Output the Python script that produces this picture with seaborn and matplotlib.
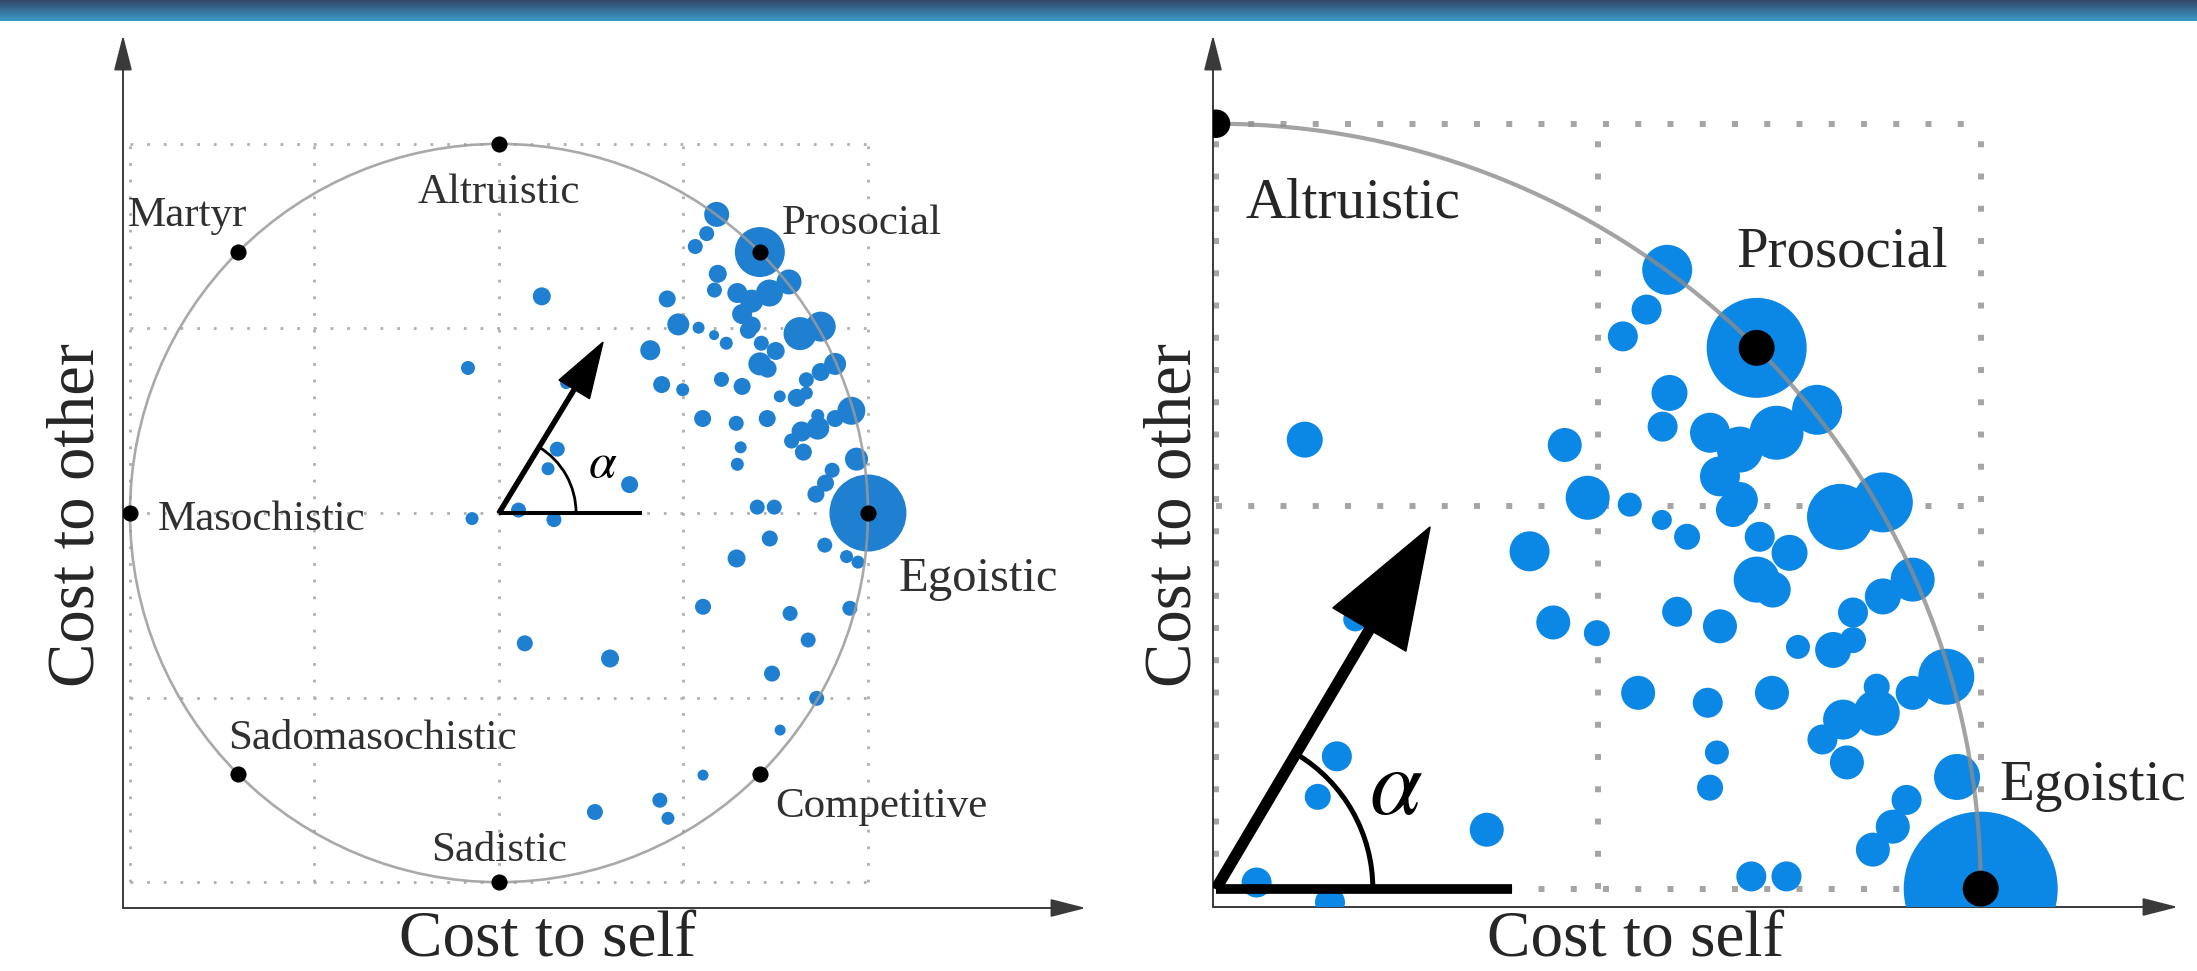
import glob
import os
import numpy as np
import pandas as pd
import matplotlib
matplotlib.use("Agg")
import matplotlib.pyplot as plt
from matplotlib import font_manager
from matplotlib.patches import Arc, Circle
from matplotlib.colors import LinearSegmentedColormap
import seaborn as sns

# Participants: cost to self (x), cost to other (y) on the unit-circle scale
cost_self = [0.116, 0.456, 0.486, 0.590, 0.707, 0.532, 0.563, 0.593, 0.584, 0.646,
             0.685, 0.733, 0.786, 0.659, 0.685, 0.816, 0.872, 0.541, 0.583, 0.616,
             0.603, 0.659, 0.552, 0.643, 0.655, 0.646, 0.727, 0.761, 0.676, 0.711,
             0.750, 0.707, 0.728, 0.911, 0.872, 0.833, 0.807, 0.833, 0.955, 0.864,
             0.911, 0.864, 0.820, 0.793, 0.825, 0.969, 0.903, 0.885, 0.859, 1.000,
             0.700, 0.746, 0.410, 0.441, 0.498, 0.182, 0.158, 0.133, 0.354, 0.053,
             0.149, -0.084, -0.073, 0.734, 0.644, 0.883, 0.942, 0.973, 0.553, 0.789,
             0.951, 0.070, 0.301, 0.838, 0.740, 0.861, 0.762, 0.553, 0.436, 0.458,
             0.260]
cost_other = [0.587, 0.580, 0.511, 0.809, 0.707, 0.722, 0.757, 0.648, 0.604, 0.596,
              0.574, 0.596, 0.626, 0.539, 0.508, 0.486, 0.505, 0.502, 0.482, 0.460,
              0.362, 0.343, 0.256, 0.243, 0.178, 0.132, 0.256, 0.316, 0.495, 0.460,
              0.439, 0.404, 0.391, 0.404, 0.382, 0.361, 0.312, 0.325, 0.277, 0.230,
              0.256, 0.264, 0.221, 0.195, 0.165, 0.146, 0.116, 0.081, 0.051, 0.000,
              0.016, 0.016, 0.441, 0.348, 0.334, 0.352, 0.173, 0.120, 0.077, 0.008,
              -0.018, 0.393, -0.015, -0.069, -0.123, -0.087, -0.118, -0.133, -0.254, -0.272,
              -0.258, -0.353, -0.394, -0.344, -0.435, -0.502, -0.588, -0.710, -0.778, -0.827,
              -0.810]
# relative blob radius (pixels in the zoomed panel)
blob_radius = [18, 17, 22, 25, 50, 15, 15, 18, 15, 20,
               23, 27, 25, 20, 18, 33, 30, 12, 10, 13,
               15, 17, 17, 15, 12, 13, 17, 12, 17, 15,
               18, 23, 18, 22, 18, 15, 18, 13, 28, 23,
               17, 13, 20, 15, 17, 23, 15, 17, 17, 77,
               15, 15, 20, 17, 13, 12, 15, 13, 17, 15,
               15, 14, 13, 16, 18, 15, 13, 13, 16, 15,
               15, 16, 18, 15, 16, 15, 11, 11, 15, 13,
               16]

# Social value orientation reference points
svo_names = ["Egoistic", "Prosocial", "Altruistic", "Martyr",
             "Masochistic", "Sadomasochistic", "Sadistic", "Competitive"]
svo_x = [1.0, 0.707, 0.0, -0.707, -1.0, -0.707, 0.0, 0.707]
svo_y = [0.0, 0.707, 1.0, 0.707, 0.0, -0.707, -1.0, -0.707]

W, H = 2197, 971
BLUE_L = "#1f7fd0"
BLUE_R = "#0b87e6"
TXT = "#262626"

# make sure a Times-like serif is registered
for pat in ["/usr/share/fonts/**/*.ttf", "/usr/local/share/fonts/**/*.ttf",
            os.path.expanduser("~/.fonts/**/*.ttf"), "/usr/share/fonts/**/*.otf"]:
    for p in glob.glob(pat, recursive=True):
        if "Serif" in p or "Times" in p or "Tinos" in p:
            try:
                font_manager.fontManager.addfont(p)
            except Exception:
                pass
have = {f.name for f in font_manager.fontManager.ttflist}
serif = [n for n in ["Liberation Serif", "Times New Roman", "Tinos", "Nimbus Roman",
                     "Noto Serif", "DejaVu Serif"] if n in have]
if not serif:
    serif = ["DejaVu Sans"]

sns.set_style("white")
plt.rcParams["font.family"] = serif + ["DejaVu Sans"]
plt.rcParams["mathtext.fontset"] = "stix"

df = pd.DataFrame({"self": cost_self, "other": cost_other, "r": blob_radius})
df["area_r"] = (1.44 * df["r"]) ** 2
df["area_l"] = df["area_r"] * 0.25

fig = plt.figure(figsize=(W / 100, H / 100), dpi=100)


def px_rect(x0, y0, x1, y1):
    return [x0 / W, 1 - y1 / H, (x1 - x0) / W, (y1 - y0) / H]


# banner
bax = fig.add_axes([0, 1 - 21 / H, 1, 21 / H])
cmap = LinearSegmentedColormap.from_list("band", ["#33466a", "#3c9ac6"])
bax.imshow(np.linspace(0, 1, 40)[:, None], cmap=cmap, aspect="auto")
bax.axis("off")


def axis_arrows(ax):
    for s in ax.spines.values():
        s.set_visible(False)
    ax.set_xticks([])
    ax.set_yticks([])
    kw = dict(xycoords="axes fraction", textcoords="axes fraction",
              arrowprops=dict(arrowstyle="-|>,head_length=0.55,head_width=0.14",
                              color="#3a3a3a", lw=1.4, mutation_scale=40,
                              shrinkA=0, shrinkB=0))
    ax.annotate("", xy=(0, 1), xytext=(0, 0), **kw)
    ax.annotate("", xy=(1, 0), xytext=(0, 0), **kw)


# ---------------- left panel: full circle ----------------
ax1 = fig.add_axes(px_rect(123, 35, 1086, 908))
ax1.set_xlim(-1.019, 1.591)
ax1.set_ylim(-1.070, 1.295)
axis_arrows(ax1)

grid_kw = dict(color="#b0b0b0", lw=2.0, linestyle=(0, (1, 5)), zorder=1)
for g in [-1, -0.5, 0, 0.5, 1]:
    ax1.hlines(g, -1, 1, **grid_kw)
    ax1.vlines(g, -1, 1, **grid_kw)

sns.scatterplot(data=df, x="self", y="other", size="area_l",
                sizes=(df["area_l"].min(), df["area_l"].max()),
                color=BLUE_L, linewidth=0, legend=False, ax=ax1, zorder=3)
ax1.add_patch(Circle((0, 0), 1, fill=False, ec="#9a9a9a", lw=1.9, alpha=0.85, zorder=4))
ax1.scatter(svo_x, svo_y, s=135, color="black", zorder=5, linewidths=0)

left_pos = {"Egoistic": (1.084, -0.211, "left", 35),
            "Prosocial": (0.767, 0.756, "left", 31),
            "Altruistic": (0.0, 0.840, "center", 31),
            "Martyr": (-1.005, 0.778, "left", 31),
            "Masochistic": (-0.924, -0.046, "left", 31),
            "Sadomasochistic": (-0.734, -0.640, "left", 31),
            "Sadistic": (0.0, -0.943, "center", 31),
            "Competitive": (0.748, -0.824, "left", 31)}
for name in svo_names:
    x, y, ha, fs = left_pos[name]
    ax1.text(x, y, name, ha=ha, va="baseline", fontsize=fs, color="#303030", zorder=6)

ax1.arrow(0, 0, 0.282, 0.463, width=0.011, head_width=0.097, head_length=0.15,
          length_includes_head=True, color="black", zorder=6)
ax1.plot([0, 0.388], [0, 0], color="black", lw=2.9, zorder=6, solid_capstyle="butt")
ax1.add_patch(Arc((0, 0), 0.418, 0.418, theta1=0, theta2=59, color="black", lw=2.0, zorder=6))
ax1.text(0.282, 0.130, r"$\alpha$", fontsize=36, ha="center", va="center", color="black", zorder=6)

# ---------------- right panel: first quadrant ----------------
ax2 = fig.add_axes(px_rect(1213, 35, 2178, 907))
ax2.set_xlim(-0.004, 1.258)
ax2.set_ylim(-0.024, 1.116)
axis_arrows(ax2)

grid_kw = dict(color="#a5a5a5", lw=4.3, linestyle=(0, (1, 4.4)), zorder=1)
for g in [0, 0.5, 1]:
    ax2.hlines(g, 0, 1, **grid_kw)
    ax2.vlines(g, 0, 1, **grid_kw)

sns.scatterplot(data=df, x="self", y="other", size="area_r",
                sizes=(df["area_r"].min(), df["area_r"].max()),
                color=BLUE_R, linewidth=0, legend=False, ax=ax2, zorder=3)
ax2.add_patch(Circle((0, 0), 1, fill=False, ec="#8c8c8c", lw=3.0, alpha=0.8, zorder=4))
ax2.scatter(svo_x[:3], svo_y[:3], s=[670, 670, 420], color="black", zorder=5, linewidths=0)

right_pos = {"Altruistic": (0.038, 0.878), "Prosocial": (0.681, 0.814), "Egoistic": (1.024, 0.116)}
for name, (x, y) in right_pos.items():
    ax2.text(x, y, name, ha="left", va="baseline", fontsize=41, color=TXT, zorder=6)

ax2.arrow(0, 0, 0.280, 0.473, width=0.013, head_width=0.111, head_length=0.156,
          length_includes_head=True, color="black", zorder=6)
ax2.plot([0, 0.387], [0, 0], color="black", lw=7.0, zorder=6, solid_capstyle="butt")
ax2.add_patch(Arc((0, 0), 0.41, 0.41, theta1=0, theta2=59, color="black", lw=3.6, zorder=6))
ax2.text(0.235, 0.127, r"$\alpha$", fontsize=68, ha="center", va="center", color="black", zorder=6)

# axis titles
for cx in [548, 1636]:
    fig.text(cx / W, 1 - 956 / H, "Cost to self", ha="center", va="baseline",
             fontsize=47, color=TXT)
for cx in [77, 1174]:
    fig.text(cx / W, 1 - 515 / H, "Cost to other", ha="center", va="center",
             rotation=90, fontsize=48, color=TXT)

fig.savefig("out.png", dpi=100)
